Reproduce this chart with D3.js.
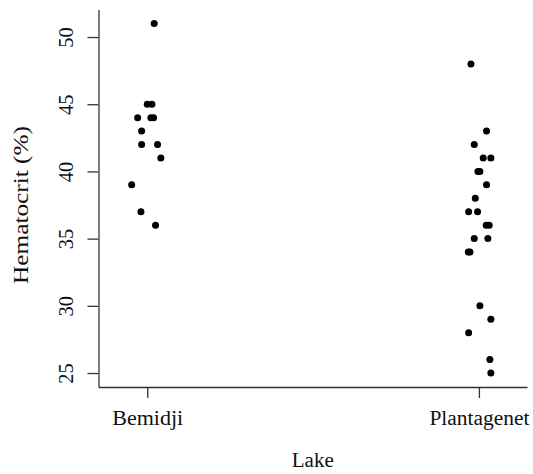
<!DOCTYPE html>
<html>
<head>
<meta charset="utf-8">
<script src="https://cdn.jsdelivr.net/npm/d3@7"></script>
<style>
  body { margin: 0; background: #fff; }
  text { font-family: "Liberation Serif", "Times New Roman", serif; font-size: 20.5px; fill: #111; }
</style>
</head>
<body>
<svg id="chart" width="533" height="474"></svg>
<script>
// values, jitter is the horizontal offset in group units
var lakes = ["Bemidji", "Plantagenet"];
var lakeLabelWidths = [71, 100];
var bemidjiHct = [51, 45, 45, 44, 44, 44, 43, 42, 42, 41, 39, 37, 36];
var bemidjiJitter = [0.021, 0.000, 0.014, -0.029, 0.011, 0.019, -0.017, -0.017, 0.031, 0.041, -0.047, -0.019, 0.025];
var plantagenetHct = [48, 43, 42, 41, 41, 40, 40, 39, 38, 37, 37, 36, 36, 35, 35, 34, 34, 30, 29, 28, 26, 25];
var plantagenetJitter = [-0.024, 0.023, -0.014, 0.013, 0.036, -0.003, 0.003, 0.023, -0.011, -0.031, -0.004, 0.022, 0.031, -0.014, 0.027, -0.032, -0.027, 0.003, 0.036, -0.031, 0.033, 0.036];
var yTicks = [25, 30, 35, 40, 45, 50];

var svg = d3.select('#chart');

var margin = {top: 9.6, left: 98.5, bottom: 87, right: 6};
var width = 533;
var height = 474;

var xScale = d3.scaleLinear().domain([0.853, 2.145]).range([margin.left, width - margin.right]);
var yScale = d3.scaleLinear().domain([23.96, 52.04]).range([height - margin.bottom, margin.top]);

var points = [];
bemidjiHct.forEach(function(v, i) { points.push({g: 1, j: bemidjiJitter[i], v: v}); });
plantagenetHct.forEach(function(v, i) { points.push({g: 2, j: plantagenetJitter[i], v: v}); });

var xAxis = d3.axisBottom(xScale).tickValues([1, 2])
    .tickFormat(function(d) { return lakes[d - 1]; })
    .tickSize(11).tickSizeOuter(0).tickPadding(12);
var yAxis = d3.axisLeft(yScale).tickValues(yTicks)
    .tickSize(11).tickSizeOuter(0);

var gx = svg.append("g")
    .attr("transform", "translate(0," + (height - margin.bottom) + ")")
    .call(xAxis);

var gy = svg.append("g")
    .attr("transform", "translate(" + margin.left + ",0)")
    .call(yAxis);

[gx, gy].forEach(function(g) {
    g.selectAll("path, line").attr("stroke", "#333").attr("stroke-width", 1.3);
    g.selectAll("text").attr("fill", "#111").style("font-size", "20.5px")
        .style("font-family", "'Liberation Serif', 'Times New Roman', serif");
});

gx.selectAll(".tick text")
    .attr("textLength", function(d) { return lakeLabelWidths[d - 1]; })
    .attr("lengthAdjust", "spacingAndGlyphs");

// y tick labels run parallel to the axis
gy.selectAll(".tick text")
    .attr("x", 0).attr("y", 0).attr("dy", 0)
    .attr("transform", "translate(-26,0) rotate(-90)")
    .style("text-anchor", "middle");

svg.selectAll("circle.pt")
    .data(points)
    .enter().append("circle")
    .attr("class", "pt")
    .attr("cx", function(d) { return xScale(d.g + d.j); })
    .attr("cy", function(d) { return yScale(d.v); })
    .attr("r", 3.5)
    .attr("fill", "#000");

// axis titles
svg.append("text")
    .attr("x", (margin.left + width - margin.right) / 2)
    .attr("y", 467)
    .attr("textLength", 42)
    .attr("lengthAdjust", "spacingAndGlyphs")
    .style("text-anchor", "middle")
    .text("Lake");

svg.append("text")
    .attr("transform", "translate(28," + 205 + "), rotate(-90)")
    .attr("textLength", 158)
    .attr("lengthAdjust", "spacingAndGlyphs")
    .style("text-anchor", "middle")
    .text("Hematocrit (%)");
</script>
</body>
</html>
